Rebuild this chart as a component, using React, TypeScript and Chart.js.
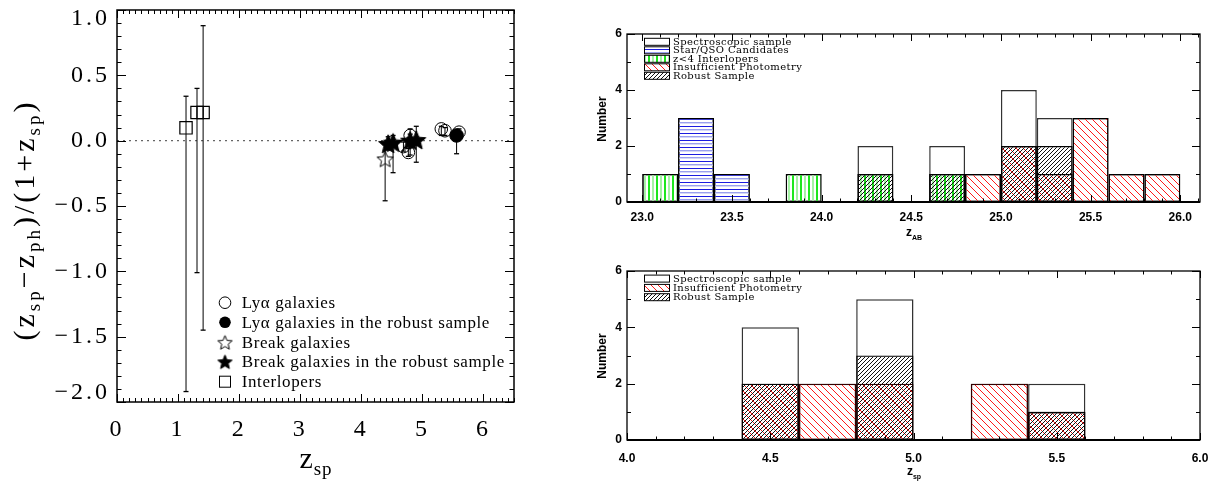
import React, { useEffect, useRef } from "react";
import { Chart, registerables } from "chart.js";
Chart.register(...registerables);

// ---------------- Left panel: (z_sp - z_ph)/(1+z_sp) vs z_sp ----------------
const lyaZ = [4.69, 4.77, 4.8, 5.31, 5.37, 5.6];
const lyaDz = [-0.045, -0.09, 0.04, 0.09, 0.076, 0.065];
const lyaLo = [-0.08, -0.12, -0.11, 0.04, 0.04, 0.03];
const lyaHi = [-0.01, -0.06, 0.09, 0.11, 0.1, 0.09];

const lyaRobZ = [5.56];
const lyaRobDz = [0.04];
const lyaRobLo = [-0.1];
const lyaRobHi = [0.07];

const brkZ = [4.39];
const brkDz = [-0.14];
const brkLo = [-0.46];
const brkHi = [-0.03];

const brkRobZ = [4.44, 4.52, 4.8, 4.9];
const brkRobDz = [-0.025, -0.015, 0.0, 0.005];
const brkRobLo = [-0.07, -0.245, -0.05, -0.165];
const brkRobHi = [0.03, 0.04, 0.05, 0.11];

const intZ = [1.13, 1.31, 1.41];
const intDz = [0.098, 0.216, 0.216];
const intLo = [-1.92, -1.01, -1.45];
const intHi = [0.34, 0.4, 0.88];

const leftLegend = [
  "Lyα galaxies",
  "Lyα galaxies in the robust sample",
  "Break galaxies",
  "Break galaxies in the robust sample",
  "Interlopers",
];

// ---------------- Top-right: z_AB histogram ----------------
const magBins = [23.1, 23.3, 23.5, 23.7, 23.9, 24.1, 24.3, 24.5, 24.7, 24.9, 25.1, 25.3, 25.5, 25.7, 25.9];
const magSpec = [1, 3, 1, 0, 1, 0, 2, 0, 2, 1, 4, 3, 3, 1, 1];
const magStar = [0, 3, 1, 0, 0, 0, 0, 0, 0, 0, 0, 0, 0, 0, 0];
const magInter = [1, 0, 0, 0, 1, 0, 1, 0, 1, 0, 0, 0, 0, 0, 0];
const magInsuf = [0, 0, 0, 0, 0, 0, 0, 0, 0, 1, 2, 1, 3, 1, 1];
const magRobust = [0, 0, 0, 0, 0, 0, 1, 0, 1, 0, 2, 2, 0, 0, 0];
const topLegend = ["Spectroscopic sample", "Star/QSO Candidates", "z<4 Interlopers", "Insufficient Photometry", "Robust Sample"];

// ---------------- Bottom-right: z_sp histogram ----------------
const zBins = [4.1, 4.3, 4.5, 4.7, 4.9, 5.1, 5.3, 5.5, 5.7, 5.9];
const zSpec = [0, 0, 4, 2, 5, 0, 2, 2, 0, 0];
const zInsuf = [0, 0, 2, 2, 2, 0, 2, 1, 0, 0];
const zRobust = [0, 0, 2, 0, 3, 0, 0, 1, 0, 0];
const botLegend = ["Spectroscopic sample", "Insufficient Photometry", "Robust Sample"];

// ---------------- helpers ----------------
function makeStar(size: number, filled: boolean) {
  const c = document.createElement("canvas");
  c.width = size;
  c.height = size;
  const g = c.getContext("2d")!;
  const cx = size / 2, cy = size / 2 + 0.8, R = size / 2 - 1, r = R * 0.45;
  g.beginPath();
  for (let i = 0; i < 10; i++) {
    const a = -Math.PI / 2 + (i * Math.PI) / 5;
    const rr = i % 2 ? r : R;
    g.lineTo(cx + rr * Math.cos(a), cy + rr * Math.sin(a));
  }
  g.closePath();
  if (filled) {
    g.fillStyle = "#000";
    g.fill();
  }
  g.strokeStyle = "#000";
  g.lineWidth = 1;
  g.stroke();
  return c;
}

function makePattern(kind: string): CanvasPattern {
  const c = document.createElement("canvas");
  const g = c.getContext("2d")!;
  if (kind === "blue") {
    c.width = 8; c.height = 7;
    g.fillStyle = "#1c1ce0"; g.fillRect(0, 0, 8, 1);
    g.fillStyle = "#9aa0ee"; g.fillRect(0, 3, 8, 1);
    g.fillStyle = "#d4d7f8"; g.fillRect(0, 4, 8, 1);
  } else if (kind === "green") {
    c.width = 8; c.height = 8;
    g.fillStyle = "#1ee61e"; g.fillRect(0, 0, 2, 8);
    g.fillStyle = "#a6f2a6"; g.fillRect(4, 0, 2, 8);
  } else {
    const s = kind === "red" ? 7 : 4;
    c.width = s; c.height = s;
    g.strokeStyle = kind === "red" ? "#ff1a1a" : "#111";
    g.lineWidth = 1;
    g.beginPath();
    for (let k = -1; k <= 1; k++) {
      if (kind === "red") { g.moveTo(k * s, 0); g.lineTo(k * s + s, s); }
      else { g.moveTo(k * s, s); g.lineTo(k * s + s, 0); }
    }
    g.stroke();
  }
  return g.createPattern(c, "repeat")!;
}

type Part = { t: string; font: string; dy?: number };
function drawRich(ctx: CanvasRenderingContext2D, parts: Part[], x: number, y: number, rotate: boolean, ls: string) {
  ctx.save();
  (ctx as any).letterSpacing = ls;
  ctx.fillStyle = "#000";
  ctx.textAlign = "left";
  ctx.textBaseline = "alphabetic";
  let total = 0;
  const widths = parts.map((p) => {
    ctx.font = p.font;
    const w = ctx.measureText(p.t).width;
    total += w;
    return w;
  });
  ctx.translate(x, y);
  if (rotate) ctx.rotate(-Math.PI / 2);
  let cx = -total / 2;
  parts.forEach((p, i) => {
    ctx.font = p.font;
    ctx.fillText(p.t, cx, p.dy || 0);
    cx += widths[i];
  });
  ctx.restore();
}

function frameTicks(cfg: any) {
  return {
    id: "frameTicks",
    afterDatasetsDraw(chart: any) {
      const { ctx, chartArea: a } = chart;
      const xs = chart.scales.x, ys = chart.scales.y;
      ctx.save();
      (ctx as any).letterSpacing = "0px";
      ctx.strokeStyle = "#000";
      ctx.lineWidth = cfg.tickWidth;
      const tick = (scale: any, step: number, len: number, horiz: boolean) => {
        const k0 = Math.ceil(scale.min / step - 1e-6), k1 = Math.floor(scale.max / step + 1e-6);
        ctx.beginPath();
        for (let k = k0; k <= k1; k++) {
          const p = Math.round(scale.getPixelForValue(k * step)) + 0.5;
          if (horiz) {
            ctx.moveTo(p, a.bottom); ctx.lineTo(p, a.bottom - len);
            ctx.moveTo(p, a.top); ctx.lineTo(p, a.top + len);
          } else {
            ctx.moveTo(a.left, p); ctx.lineTo(a.left + len, p);
            ctx.moveTo(a.right, p); ctx.lineTo(a.right - len, p);
          }
        }
        ctx.stroke();
      };
      tick(xs, cfg.xMinor, cfg.xMinorLen, true);
      tick(xs, cfg.xMajor, cfg.xMajorLen, true);
      tick(ys, cfg.yMinor, cfg.yMinorLen, false);
      tick(ys, cfg.yMajor, cfg.yMajorLen, false);
      ctx.lineWidth = cfg.frameWidth;
      ctx.strokeRect(a.left, a.top, a.right - a.left, a.bottom - a.top);
      if (cfg.bottomWidth) {
        ctx.lineWidth = cfg.bottomWidth;
        ctx.beginPath();
        ctx.moveTo(a.left, a.bottom);
        ctx.lineTo(a.right, a.bottom);
        ctx.stroke();
      }
      ctx.restore();
    },
  };
}

const pts = (zs: number[], ds: number[]) => zs.map((x, i) => ({ x, y: ds[i] }));
const errorBars = (zs: number[], lo: number[], hi: number[]) =>
  zs.map((z, i) => ({
    data: [{ x: z, y: lo[i] }, { x: z, y: hi[i] }],
    showLine: true,
    borderColor: "#000",
    borderWidth: 1,
    pointStyle: "line",
    pointRadius: 2.5,
    pointBorderColor: "#000",
    pointBorderWidth: 1.3,
    order: 1,
  }));

const serif = '"Liberation Serif", serif';
const sansBold = { family: "Liberation Sans", size: 12, weight: "bold" as const };

const fitY = (w: number) => (s: any) => { s.width = w; s.paddingTop = 0; s.paddingBottom = 0; };
const fitX = (h: number) => (s: any) => { s.height = h; s.paddingLeft = 0; s.paddingRight = 0; };

export default function App() {
  const leftRef = useRef<HTMLCanvasElement>(null);
  const trRef = useRef<HTMLCanvasElement>(null);
  const brRef = useRef<HTMLCanvasElement>(null);

  useEffect(() => {
    const charts: Chart[] = [];
    const starOpen = makeStar(19, false);
    const starFilled = makeStar(22, true);
    const starLegOpen = makeStar(17, false);
    const starLegFilled = makeStar(17, true);
    const pBlue = makePattern("blue");
    const pGreen = makePattern("green");
    const pRed = makePattern("red");
    const pBlack = makePattern("black");

    // ---------- left scatter ----------
    const leftPlugins = [
      {
        id: "ls",
        beforeDraw(chart: any) {
          (chart.ctx as any).letterSpacing = "3px";
          // keep the end labels inside the axis length, as in the original
          const ys = chart.scales.y;
          const items = ys.getLabelItems();
          items.forEach((it: any, i: number) => {
            const v = ys.ticks[i] && ys.ticks[i].value;
            if (it._shifted) return;
            if (v === ys.max) it.options.translation[1] += 9;
            if (v === ys.min) it.options.translation[1] -= 9;
            it._shifted = true;
          });
        },
        afterDraw(chart: any) { (chart.ctx as any).letterSpacing = "0px"; },
      },
      frameTicks({ xMajor: 1, xMinor: 0.1, xMajorLen: 8, xMinorLen: 4, yMajor: 0.5, yMinor: 0.1, yMajorLen: 9, yMinorLen: 4.5, tickWidth: 1, frameWidth: 1.5 }),
      {
        id: "leftDecor",
        afterDraw(chart: any) {
          const ctx: CanvasRenderingContext2D = chart.ctx;
          const main = "30px " + serif, sub = "19px " + serif;
          drawRich(ctx, [
            { t: "(z", font: main }, { t: "sp", font: sub, dy: 6 },
            { t: "−z", font: main }, { t: "ph", font: sub, dy: 6 },
            { t: ")/(1+z", font: main }, { t: "sp", font: sub, dy: 6 }, { t: ")", font: main },
          ], 34, 220, true, "3px");
          drawRich(ctx, [{ t: "z", font: main }, { t: "sp", font: sub, dy: 7 }], 316, 468, false, "1px");
          // legend
          const rows = [302.7, 322.3, 342.3, 361.7, 381.7];
          const sx = 225;
          ctx.save();
          ctx.strokeStyle = "#000"; ctx.fillStyle = "#000"; ctx.lineWidth = 1;
          ctx.beginPath(); ctx.arc(sx, rows[0], 5.8, 0, Math.PI * 2); ctx.stroke();
          ctx.beginPath(); ctx.arc(sx, rows[1], 5.8, 0, Math.PI * 2); ctx.fill();
          ctx.drawImage(starLegOpen, sx - 8.5, rows[2] - 8.5);
          ctx.drawImage(starLegFilled, sx - 8.5, rows[3] - 8.5);
          ctx.strokeRect(sx - 5.5, rows[4] - 5.5, 11, 11);
          (ctx as any).letterSpacing = "0.6px";
          ctx.font = "17px " + serif;
          ctx.textBaseline = "middle";
          ctx.textAlign = "left";
          leftLegend.forEach((t, i) => ctx.fillText(t, 241.7, rows[i] + 1));
          ctx.restore();
        },
      },
    ];
    const serifTick = { family: "Liberation Serif", size: 24 };
    charts.push(
      new Chart(leftRef.current!, {
        type: "scatter",
        data: {
          datasets: [
            { data: pts(lyaRobZ, lyaRobDz), pointStyle: "circle", pointRadius: 6.8, pointBackgroundColor: "#000", pointBorderColor: "#000", pointBorderWidth: 1, order: 0 },
            { data: pts(lyaZ, lyaDz), pointStyle: "circle", pointRadius: 6.3, pointBackgroundColor: "rgba(0,0,0,0)", pointBorderColor: "#000", pointBorderWidth: 1, order: 0 },
            { data: pts(brkRobZ, brkRobDz), pointStyle: starFilled as any, pointRadius: 9, order: 0 },
            { data: pts(brkZ, brkDz), pointStyle: starOpen as any, pointRadius: 9, order: 0 },
            { data: pts(intZ, intDz), pointStyle: "rect", pointRadius: 8.7, pointBackgroundColor: "rgba(0,0,0,0)", pointBorderColor: "#000", pointBorderWidth: 1.2, order: 0 },
            ...errorBars(lyaZ, lyaLo, lyaHi),
            ...errorBars(lyaRobZ, lyaRobLo, lyaRobHi),
            ...errorBars(brkZ, brkLo, brkHi),
            ...errorBars(brkRobZ, brkRobLo, brkRobHi),
            ...errorBars(intZ, intLo, intHi),
            { data: [{ x: 0, y: 0 }, { x: 6.5, y: 0 }], showLine: true, borderColor: "#666", borderWidth: 1.3, borderDash: [2, 4], pointRadius: 0, order: 2 },
          ] as any,
        },
        options: {
          animation: false,
          responsive: false,
          layout: { padding: { left: 0, right: 16, top: 5, bottom: 0 } },
          plugins: { legend: { display: false }, tooltip: { enabled: false } },
          scales: {
            x: {
              type: "linear", min: 0, max: 6.5,
              grid: { display: false, drawTicks: false }, border: { display: false },
              afterFit: fitX(80),
              ticks: { stepSize: 1, includeBounds: false, autoSkip: false, maxRotation: 0, padding: 13, color: "#000", font: serifTick, callback: (v: any) => String(v) },
            },
            y: {
              type: "linear", min: -2, max: 1,
              grid: { display: false, drawTicks: false }, border: { display: false },
              afterFit: fitY(117),
              ticks: { stepSize: 0.5, includeBounds: false, autoSkip: false, padding: 7, color: "#000", font: serifTick, callback: (v: any) => (Number(v) < 0 ? "−" : "") + Math.abs(Number(v)).toFixed(1) },
            },
          },
        } as any,
        plugins: leftPlugins as any,
      })
    );

    // ---------- histogram helpers ----------
    const bar = (bins: number[], vals: number[], bg: any, border: string, order: number, bw = 1.3) => ({
      type: "bar",
      data: bins.map((x, i) => ({ x, y: vals[i] })),
      backgroundColor: bg,
      borderColor: border,
      borderWidth: bw,
      borderSkipped: false,
      inflateAmount: 0,
      grouped: false,
      barPercentage: 1,
      categoryPercentage: 1,
      order,
    });
    const histOptions = (xmin: number, xmax: number, xHeight: number, topPad: number, xPad: number) => ({
      animation: false,
      responsive: false,
      layout: { padding: { left: 0, right: 20, top: topPad, bottom: 0 } },
      plugins: { legend: { display: false }, tooltip: { enabled: false } },
      scales: {
        x: {
          type: "linear", min: xmin, max: xmax, offset: false,
          grid: { display: false, drawTicks: false }, border: { display: false },
          afterFit: fitX(xHeight),
          ticks: { stepSize: 0.5, includeBounds: false, autoSkip: false, maxRotation: 0, padding: xPad, color: "#000", font: sansBold, callback: (v: any) => Number(v).toFixed(1) },
        },
        y: {
          type: "linear", min: 0, max: 6,
          grid: { display: false, drawTicks: false }, border: { display: false },
          afterFit: fitY(67),
          ticks: { stepSize: 2, includeBounds: false, padding: 5, color: "#000", font: sansBold, callback: (v: any) => String(v) },
        },
      },
    });
    const histTicks = () => frameTicks({ xMajor: 0.5, xMinor: 0.1, xMajorLen: 7, xMinorLen: 3.5, yMajor: 2, yMinor: 1, yMajorLen: 8, yMinorLen: 4, tickWidth: 1, frameWidth: 1.3, bottomWidth: 2 });
    const histLegend = (labels: string[], fills: any[], y0: number, step: number) => (ctx: CanvasRenderingContext2D) => {
      ctx.save();
      labels.forEach((t, i) => {
        const cy = y0 + i * step;
        ctx.fillStyle = fills[i];
        ctx.fillRect(84, cy - 3.5, 25, 7);
        ctx.strokeStyle = "#000";
        ctx.lineWidth = 1;
        ctx.strokeRect(84.5, cy - 3.5, 25, 7);
        ctx.fillStyle = "#000";
        (ctx as any).letterSpacing = "0.4px";
        ctx.font = '10px "DejaVu Serif"';
        ctx.textAlign = "left";
        ctx.textBaseline = "middle";
        ctx.fillText(t, 113, cy + 0.5);
      });
      ctx.restore();
    };
    const sb = (px: number) => `bold ${px}px "Liberation Sans"`;

    // ---------- top-right ----------
    const trLegend = histLegend(topLegend, ["#fff", pBlue, pGreen, pRed, pBlack], 41.8, 8.5);
    charts.push(
      new Chart(trRef.current!, {
        type: "bar",
        data: {
          datasets: [
            bar(magBins, magSpec, "#fff", "#333", 5, 1.5),
            bar(magBins, magStar, pBlue, "#000", 4),
            bar(magBins, magInter, pGreen, "#000", 3),
            bar(magBins, magInsuf, pRed, "#000", 2),
            bar(magBins, magRobust, pBlack, "#000", 1),
          ] as any,
        },
        options: histOptions(22.915, 26.11, 48, 34, 8) as any,
        plugins: [
          histTicks(),
          {
            id: "trDecor",
            afterDraw(chart: any) {
              const ctx = chart.ctx;
              trLegend(ctx);
              drawRich(ctx, [{ t: "Number", font: sb(12) }], 46, 119, true, "0px");
              drawRich(ctx, [{ t: "z", font: sb(12) }, { t: "AB", font: sb(7), dy: 3.5 }], 354, 236, false, "0px");
            },
          },
        ] as any,
      })
    );

    // ---------- bottom-right ----------
    const brLegend = histLegend(botLegend, ["#fff", pRed, pBlack], 28.6, 9.3);
    charts.push(
      new Chart(brRef.current!, {
        type: "bar",
        data: {
          datasets: [
            bar(zBins, zSpec, "#fff", "#333", 5, 1.5),
            bar(zBins, zInsuf, pRed, "#300", 2),
            bar(zBins, zRobust, pBlack, "#000", 1),
          ] as any,
        },
        options: histOptions(4, 6, 42, 21, 11) as any,
        plugins: [
          histTicks(),
          {
            id: "brDecor",
            afterDraw(chart: any) {
              const ctx = chart.ctx;
              brLegend(ctx);
              drawRich(ctx, [{ t: "Number", font: sb(12) }], 46, 106, true, "0px");
              drawRich(ctx, [{ t: "z", font: sb(12) }, { t: "sp", font: sb(7), dy: 3.5 }], 354, 225, false, "0px");
            },
          },
        ] as any,
      })
    );

    return () => charts.forEach((c) => c.destroy());
  }, []);

  return (
    <div style={{ position: "fixed", left: 0, top: 0, width: 1220, height: 482, background: "#fff" }}>
      <canvas ref={leftRef} width={530} height={482} style={{ position: "absolute", left: 0, top: 0, width: 530, height: 482 }} />
      <canvas ref={trRef} width={660} height={250} style={{ position: "absolute", left: 560, top: 0, width: 660, height: 250 }} />
      <canvas ref={brRef} width={660} height={232} style={{ position: "absolute", left: 560, top: 250, width: 660, height: 232 }} />
    </div>
  );
}
